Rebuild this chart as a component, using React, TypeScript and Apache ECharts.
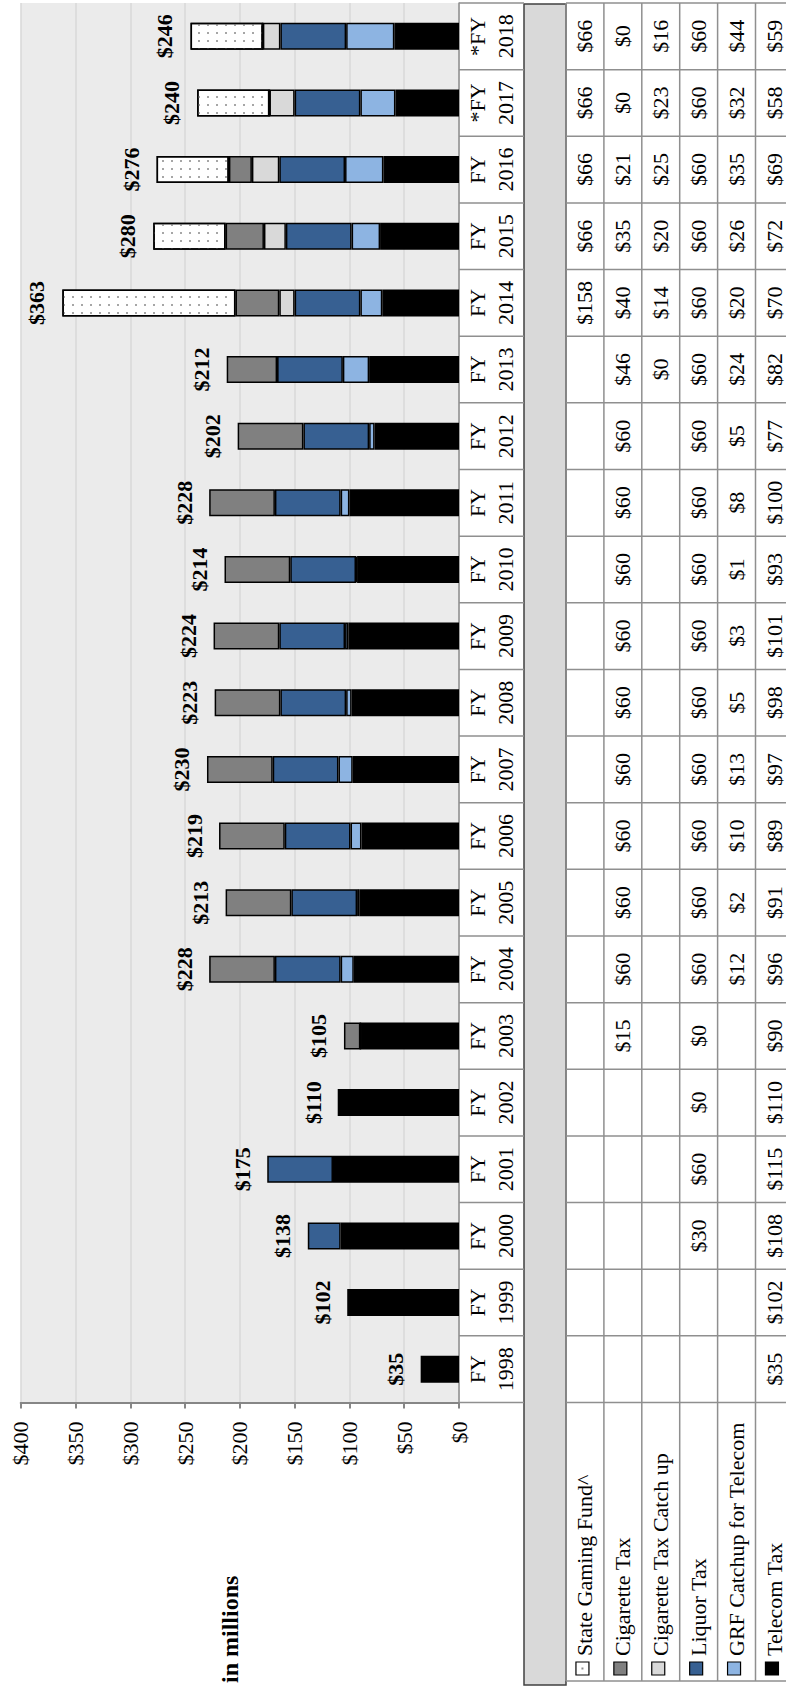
import React, { useEffect, useRef } from "react";
import * as echarts from "echarts";

const categories = [
  "FY 1998", "FY 1999", "FY 2000", "FY 2001", "FY 2002", "FY 2003", "FY 2004",
  "FY 2005", "FY 2006", "FY 2007", "FY 2008", "FY 2009", "FY 2010", "FY 2011",
  "FY 2012", "FY 2013", "FY 2014", "FY 2015", "FY 2016", "*FY 2017", "*FY 2018",
];

const stateGamingFund = [null, null, null, null, null, null, null, null, null, null, null, null, null, null, null, null, 158, 66, 66, 66, 66];
const cigaretteTax = [null, null, null, null, null, 15, 60, 60, 60, 60, 60, 60, 60, 60, 60, 46, 40, 35, 21, 0, 0];
const cigaretteTaxCatchUp = [null, null, null, null, null, null, null, null, null, null, null, null, null, null, null, 0, 14, 20, 25, 23, 16];
const liquorTax = [null, null, 30, 60, 0, 0, 60, 60, 60, 60, 60, 60, 60, 60, 60, 60, 60, 60, 60, 60, 60];
const grfCatchupForTelecom = [null, null, null, null, null, null, 12, 2, 10, 13, 5, 3, 1, 8, 5, 24, 20, 26, 35, 32, 44];
const telecomTax = [35, 102, 108, 115, 110, 90, 96, 91, 89, 97, 98, 101, 93, 100, 77, 82, 70, 72, 69, 58, 59];
const totals = [35, 102, 138, 175, 110, 105, 228, 213, 219, 230, 223, 224, 214, 228, 202, 212, 363, 280, 276, 240, 246];

const valueTicks = { min: 0, max: 400, interval: 50 };
const axisTitle = "in millions";

const SERIF = "Liberation Serif";

// table order (left to right in the picture)
const tableRows = [
  { name: "State Gaming Fund^", data: stateGamingFund, color: "#ffffff", dotted: true },
  { name: "Cigarette Tax", data: cigaretteTax, color: "#808080" },
  { name: "Cigarette Tax Catch up", data: cigaretteTaxCatchUp, color: "#d9d9d9" },
  { name: "Liquor Tax", data: liquorTax, color: "#376092" },
  { name: "GRF Catchup for Telecom", data: grfCatchupForTelecom, color: "#8db4e2" },
  { name: "Telecom Tax", data: telecomTax, color: "#000000" },
];

export default function App() {
  const ref = useRef<HTMLDivElement>(null);

  useEffect(() => {
    const el = ref.current!;
    const chart = echarts.init(el, null, { renderer: "svg" });
    const W = 786;
    const H = 1687;
    const gridLeft = 20.7;
    const gridRight = 327;
    const gridTop = 3;
    const gridBottom = 284.5;
    const plotRight = W - gridRight; // 459

    const stackOrder = [...tableRows].reverse();

    const series: any[] = stackOrder.map((r) => ({
      name: r.name,
      type: "bar",
      stack: "total",
      data: r.data,
      barWidth: 27,
      barGap: "-100%",
      itemStyle: {
        color: r.color,
        borderColor: "#000000",
        borderWidth: 1.5,
        decal: r.dotted
          ? {
              symbol: "rect",
              symbolSize: 1,
              color: "#a6a6a6",
              dashArrayX: [1.3, 6.3],
              dashArrayY: [1.3, 5.2],
            }
          : undefined,
      },
      silent: true,
    }));

    series.push({
      name: "Total",
      type: "bar",
      data: totals,
      barWidth: 27,
      barGap: "-100%",
      itemStyle: { color: "rgba(0,0,0,0)", borderWidth: 0 },
      silent: true,
      z: 1,
      label: {
        show: true,
        position: "left",
        distance: 14,
        rotate: 90,
        align: "center",
        verticalAlign: "bottom",
        formatter: (p: any) => "$" + p.value,
        fontFamily: SERIF,
        fontWeight: "bold",
        fontSize: 22,
        color: "#000000",
      },
    });

    const option: any = {
      animation: false,
      grid: {
        left: gridLeft,
        right: gridRight,
        top: gridTop,
        bottom: gridBottom,
        show: true,
        backgroundColor: "#ebebeb",
        borderWidth: 0,
      },
      xAxis: {
        type: "value",
        inverse: true,
        min: valueTicks.min,
        max: valueTicks.max,
        interval: valueTicks.interval,
        axisLine: { show: true, lineStyle: { color: "#868686", width: 2 } },
        axisTick: { show: true, length: 6, lineStyle: { color: "#868686", width: 2 } },
        splitLine: { show: true, lineStyle: { color: "#d9d9d9", width: 1.5 } },
        axisLabel: {
          rotate: 90,
          margin: 19,
          fontFamily: SERIF,
          fontSize: 22,
          color: "#000000",
          formatter: (v: number) => "$" + v,
        },
      },
      yAxis: {
        type: "category",
        data: categories,
        position: "right",
        axisLine: { show: true, lineStyle: { color: "#8f8f8f", width: 1.5 } },
        axisTick: { show: false },
        axisLabel: { show: false },
        splitLine: { show: false },
      },
      series,
    };

    chart.setOption(option);

    // table drawn from category positions of the axis
    const centers = categories.map((c) => chart.convertToPixel({ yAxisIndex: 0 }, c) as number);
    const band = Math.abs(centers[1] - centers[0]);

    const catColRight = 524;
    const grayLeft = 524;
    const grayRight = 566;
    const colW = 37.9;
    const colEdges = [0, 1, 2, 3, 4, 5, 6].map((k) => grayRight + k * colW);
    const colCenters = tableRows.map((_, k) => grayRight + (k + 0.5) * colW);
    const tableTop = gridTop;
    const legendBottom = 1681;
    const lineColor = "#8f8f8f";

    const g: any[] = [];

    // gray separator band
    g.push({
      type: "rect",
      shape: { x: grayLeft, y: tableTop + 1, width: grayRight - grayLeft, height: 1685 - tableTop - 1 },
      style: { fill: "#d9d9d9", stroke: "#404040", lineWidth: 1.5 },
      z: 10,
    });

    // white background for table cells
    g.push({
      type: "rect",
      shape: { x: grayRight, y: tableTop, width: W - grayRight, height: legendBottom - tableTop },
      style: { fill: "#ffffff" },
      z: 9,
    });

    // horizontal boundaries
    const bounds: number[] = [];
    centers.forEach((c) => bounds.push(c + band / 2));
    bounds.push(centers[centers.length - 1] - band / 2);
    bounds.forEach((b) => {
      g.push({ type: "line", shape: { x1: plotRight, y1: b, x2: catColRight, y2: b }, style: { stroke: lineColor, lineWidth: 1.5 }, z: 11 });
      g.push({ type: "line", shape: { x1: grayRight, y1: b, x2: W, y2: b }, style: { stroke: lineColor, lineWidth: 1.5 }, z: 11 });
    });
    g.push({ type: "line", shape: { x1: grayRight, y1: legendBottom, x2: W, y2: legendBottom }, style: { stroke: lineColor, lineWidth: 1.5 }, z: 11 });

    // vertical lines
    colEdges.forEach((x) => {
      if (x < W) {
        g.push({ type: "line", shape: { x1: x, y1: tableTop, x2: x, y2: legendBottom }, style: { stroke: lineColor, lineWidth: 1.5 }, z: 11 });
      }
    });

    // category labels
    categories.forEach((c, i) => {
      const parts = c.split(" ");
      g.push({
        type: "text",
        x: (plotRight + catColRight) / 2,
        y: centers[i],
        rotation: Math.PI / 2,
        style: {
          text: parts[0] + "\n" + parts[1],
          align: "center",
          verticalAlign: "middle",
          fontFamily: SERIF,
          fontSize: 22,
          lineHeight: 28,
          fill: "#000000",
        },
        z: 12,
      });
    });

    // data cells
    tableRows.forEach((r, k) => {
      r.data.forEach((v, i) => {
        if (v === null || v === undefined) return;
        g.push({
          type: "text",
          x: colCenters[k],
          y: centers[i],
          rotation: Math.PI / 2,
          style: {
            text: "$" + v,
            align: "center",
            verticalAlign: "middle",
            fontFamily: SERIF,
            fontSize: 22,
            fill: "#000000",
          },
          z: 12,
        });
      });
      // legend cell
      g.push({
        type: "rect",
        shape: { x: colCenters[k] - 9, y: 1662, width: 13, height: 13 },
        style: { fill: r.color, stroke: "#000000", lineWidth: 1.2 },
        z: 12,
      });
      if (r.dotted) {
        g.push({
          type: "rect",
          shape: { x: colCenters[k] - 3.5, y: 1667.5, width: 2, height: 2 },
          style: { fill: "#8c8c8c" },
          z: 13,
        });
      }
      g.push({
        type: "text",
        x: colCenters[k],
        y: 1656,
        rotation: Math.PI / 2,
        style: {
          text: r.name,
          align: "left",
          verticalAlign: "middle",
          fontFamily: SERIF,
          fontSize: 22,
          fill: "#000000",
        },
        z: 12,
      });
    });

    // axis title
    g.push({
      type: "text",
      x: 230,
      y: 1683,
      rotation: Math.PI / 2,
      style: {
        text: axisTitle,
        align: "left",
        verticalAlign: "middle",
        fontFamily: SERIF,
        fontSize: 24,
        fontWeight: "bold",
        fill: "#000000",
      },
      z: 12,
    });

    chart.setOption({ graphic: g });

    return () => {
      chart.dispose();
    };
  }, []);

  return (
    <div
      ref={ref}
      style={{ position: "absolute", left: 0, top: 0, width: 786, height: 1687, background: "#ffffff" }}
    />
  );
}
